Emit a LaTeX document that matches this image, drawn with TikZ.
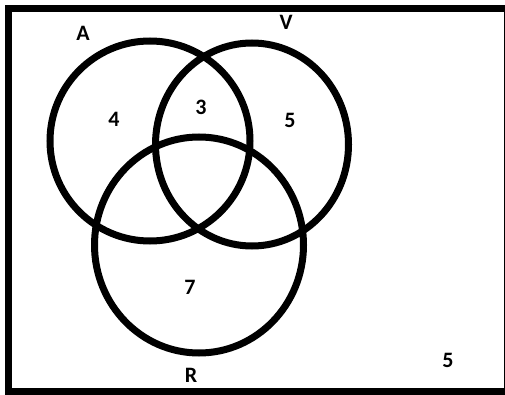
\documentclass[tikz,border=0pt]{standalone}
\usepackage{fontspec}
\setmainfont{Carlito}
\usepackage{tikz}
\tikzset{
  setline/.style={line width=7pt},
  setlabel/.style={font=\fontsize{22}{26}\selectfont\bfseries, inner sep=0pt},
}

\begin{document}
\begin{tikzpicture}[x=1pt, y=-1pt]
  \useasboundingbox (0,0) rectangle (505,395);
  % universe
  \draw[setline] (8.5,8.5) rectangle (507,391);
  % the three sets
  \draw[setline] (150,141) ellipse [x radius=100, y radius=100];
  \draw[setline] (252,144.5) ellipse [x radius=96.5, y radius=101.5];
  \draw[setline] (199,245) ellipse [x radius=104.5, y radius=108];
  % set names
  \node[setlabel] (nameA) at (83,33) {A};
  \node[setlabel] (nameV) at (286,22) {V};
  \node[setlabel] (nameR) at (191,375) {R};
  % counts
  \node[setlabel] (onlyA) at (114,119) {4};
  \node[setlabel] (AandV) at (201,107) {3};
  \node[setlabel] (onlyV) at (290,120) {5};
  \node[setlabel] (onlyR) at (190,287) {7};
  \node[setlabel] (none) at (448,360) {5};
\end{tikzpicture}
\end{document}
